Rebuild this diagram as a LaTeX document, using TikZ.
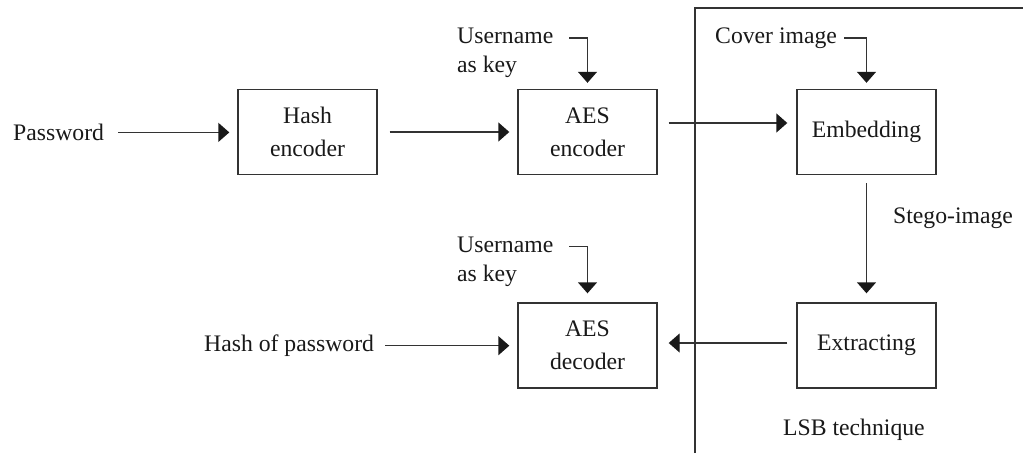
\documentclass[tikz,border=0pt]{standalone}
\usepackage{fontspec}
\setmainfont{Liberation Serif}
\usetikzlibrary{arrows.meta}
\begin{document}
\begin{tikzpicture}[x=1pt,y=-1pt,
  every node/.style={font=\fontsize{23.7}{29}\selectfont, inner sep=0pt, text=black!90},
  blk/.style={draw=black!80, line width=1.4pt, minimum width=139pt, minimum height=85pt,
    align=center, font=\fontsize{23.7}{33}\selectfont},
  lbl/.style={align=left},
  wire/.style={draw=black!80, line width=1.4pt},
  arr/.style={wire, -{Triangle[length=11pt,width=19pt,fill=black!90,color=black!90]}}]
\useasboundingbox (0,0) rectangle (1023,453);

% processing blocks
\node[blk] (hash)   at (307.5,132)   {Hash\\encoder};
\node[blk] (aesenc) at (587.5,132)   {AES\\encoder};
\node[blk] (emb)    at (866.5,132)   {Embedding};
\node[blk] (ext)    at (866.5,345.5) {Extracting};
\node[blk] (aesdec) at (587.5,345.5) {AES\\decoder};

% input / output labels
\node[anchor=base west] (pw)    at (13,140.5)  {Password};
\node[anchor=base west] (hop)   at (204,351.5) {Hash of password};
\node[lbl, anchor=north west] (uk1) at (457,28)  {Username\\as key};
\node[lbl, anchor=north west] (uk2) at (457,237) {Username\\as key};
\node[anchor=base west] (cov)   at (715,43)    {Cover image};
\node[anchor=base west] (stego) at (893,223.5) {Stego-image};
\node[anchor=base west] (lsb)   at (783,435)   {LSB technique};

% boundary of the LSB stage
\coordinate (divb) at (695,453);
\coordinate (divt) at (695,8);
\coordinate (divr) at (1023,8);
\draw[wire] (divb) -- (divt) -- (divr);

% encoding path
\draw[arr] ([xshift=14pt]pw.east) -- ([xshift=-8pt]pw.east -| hash.west);
\draw[arr] ([xshift=12pt]hash.east) -- ([xshift=-8pt]aesenc.west);
\draw[arr] ([xshift=11pt,yshift=9pt]aesenc.east) -- ([xshift=-9pt,yshift=9pt]emb.west);
\draw[arr] ([xshift=16pt,yshift=-10pt]uk1.north east) -| ([yshift=6pt]aesenc.north);
\draw[arr] ([xshift=7pt,yshift=5pt]cov.base east) -| ([yshift=6pt]emb.north);

% stego-image transfer
\draw[arr] ([yshift=-8pt]emb.south) -- ([yshift=9pt]ext.north);

% decoding path
\draw[arr] ([xshift=-9pt,yshift=2.5pt]ext.west) -- ([xshift=11pt,yshift=2.5pt]aesdec.east);
\draw[arr] ([xshift=11pt]hop.east) -- ([xshift=-8pt]hop.east -| aesdec.west);
\draw[arr] ([xshift=16pt,yshift=-9.5pt]uk2.north east) -| ([yshift=9pt]aesdec.north);
\end{tikzpicture}
\end{document}
